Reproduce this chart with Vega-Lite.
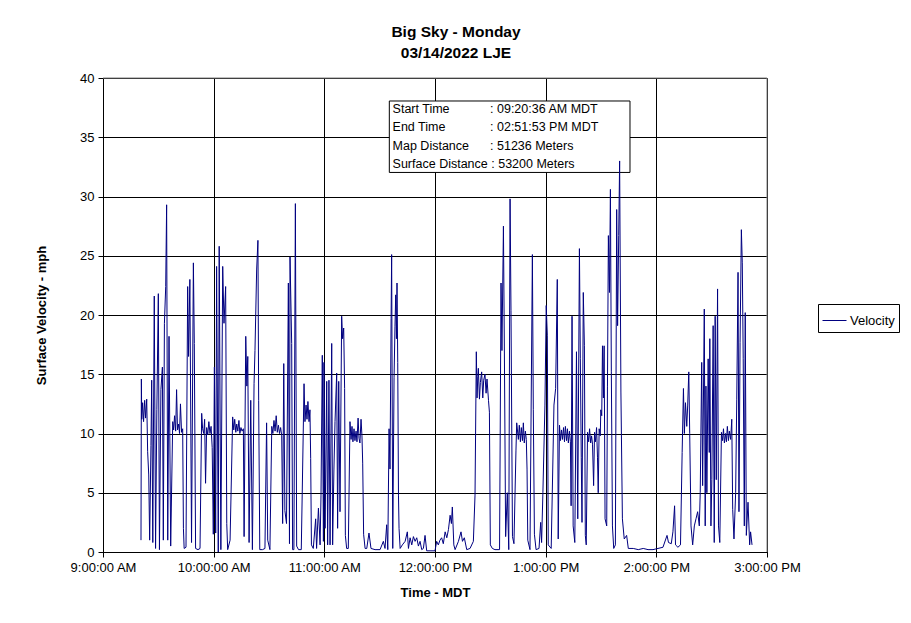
{
  "$schema": "https://vega.github.io/schema/vega-lite/v6.json",
  "width": 664,
  "height": 474,
  "autosize": {"type": "none"},
  "padding": {"left": 103, "top": 78, "right": 144, "bottom": 71},
  "background": "white",
  "title": {
    "text": ["Big Sky - Monday", "03/14/2022 LJE"],
    "font": "Liberation Sans",
    "fontSize": 15.5,
    "fontWeight": "bold",
    "color": "black",
    "anchor": "middle",
    "dx": 21,
    "offset": 11,
    "lineHeight": 21
  },
  "config": {
    "font": "Liberation Sans",
    "view": {"stroke": "#808080", "strokeWidth": 1},
    "axis": {
      "grid": true,
      "gridColor": "black",
      "gridOpacity": 1,
      "gridWidth": 1,
      "labelFont": "Liberation Sans",
      "labelFontSize": 13,
      "labelColor": "black",
      "titleFont": "Liberation Sans",
      "titleFontSize": 13,
      "titleFontWeight": "bold",
      "titleColor": "black",
      "domainColor": "black",
      "tickColor": "black",
      "tickSize": 5,
      "labelPadding": 4,
      "labelFlush": false,
      "labelOverlap": false
    }
  },
  "layer": [
    {
      "data": {"values": [{"edge": "top"}]},
      "mark": {"type": "rule", "color": "#808080", "strokeWidth": 1},
      "encoding": {
        "y": {"datum": 40, "type": "quantitative"}
      }
    },
    {
      "data": {"values": [{"edge": "right"}]},
      "mark": {"type": "rule", "color": "#808080", "strokeWidth": 1},
      "encoding": {
        "x": {"datum": {"year": 1900, "month": 1, "date": 1, "hours": 15, "utc": true}, "type": "temporal"}
      }
    },
    {
      "data": {"values": [{"box": "info"}]},
      "mark": {"type": "rect", "fill": "white", "fillOpacity": 1, "stroke": "black", "strokeOpacity": 1, "strokeWidth": 1},
      "encoding": {
        "x": {"datum": {"year": 1900, "month": 1, "date": 1, "hours": 11, "minutes": 35, "seconds": 14, "utc": true}, "type": "temporal"},
        "x2": {"datum": {"year": 1900, "month": 1, "date": 1, "hours": 13, "minutes": 45, "seconds": 43, "utc": true}},
        "y": {"datum": 38.06, "type": "quantitative"},
        "y2": {"datum": 32.03}
      }
    },
    {
      "data": {"values": [{"box": "info"}]},
      "mark": {"type": "text", "align": "left", "baseline": "middle", "fontSize": 12.5, "lineHeight": 18.3, "color": "black", "font": "Liberation Sans"},
      "encoding": {
        "x": {"datum": {"year": 1900, "month": 1, "date": 1, "hours": 11, "minutes": 37, "seconds": 0, "utc": true}, "type": "temporal"},
        "y": {"datum": 37.38, "type": "quantitative"},
        "text": {"value": ["Start Time", "End Time", "Map Distance", "Surface Distance : 53200 Meters"]}
      }
    },
    {
      "data": {"values": [{"box": "info"}]},
      "mark": {"type": "text", "align": "left", "baseline": "middle", "fontSize": 12.5, "lineHeight": 18.3, "color": "black", "font": "Liberation Sans"},
      "encoding": {
        "x": {"datum": {"year": 1900, "month": 1, "date": 1, "hours": 12, "minutes": 29, "seconds": 50, "utc": true}, "type": "temporal"},
        "y": {"datum": 37.38, "type": "quantitative"},
        "text": {"value": [": 09:20:36 AM MDT", ": 02:51:53 PM MDT", ": 51236 Meters"]}
      }
    },
    {
      "data": {
        "format": {"parse": {"t": "utc:'%H:%M:%S'"}},
        "values": [
          {"t": "09:20:36", "v": 1.0}, {"t": "09:20:48", "v": 14.6}, {"t": "09:21:00", "v": 11.2}, {"t": "09:21:30", "v": 12.6},
          {"t": "09:22:00", "v": 11.0}, {"t": "09:22:36", "v": 12.8}, {"t": "09:23:06", "v": 11.3}, {"t": "09:23:42", "v": 12.9},
          {"t": "09:24:12", "v": 8.5}, {"t": "09:24:48", "v": 6.5}, {"t": "09:25:18", "v": 1.0}, {"t": "09:26:00", "v": 9.0},
          {"t": "09:26:24", "v": 14.5}, {"t": "09:27:00", "v": 0.8}, {"t": "09:27:48", "v": 21.6}, {"t": "09:28:30", "v": 0.3},
          {"t": "09:29:12", "v": 12.0}, {"t": "09:30:00", "v": 21.8}, {"t": "09:30:36", "v": 0.2}, {"t": "09:31:24", "v": 13.7},
          {"t": "09:32:12", "v": 15.6}, {"t": "09:32:42", "v": 1.0}, {"t": "09:33:18", "v": 19.3}, {"t": "09:34:00", "v": 22.4},
          {"t": "09:34:30", "v": 29.3}, {"t": "09:35:06", "v": 1.0}, {"t": "09:35:48", "v": 18.2}, {"t": "09:36:42", "v": 0.5},
          {"t": "09:37:48", "v": 11.0}, {"t": "09:38:18", "v": 10.3}, {"t": "09:38:48", "v": 11.5}, {"t": "09:39:24", "v": 10.2},
          {"t": "09:39:54", "v": 13.7}, {"t": "09:40:24", "v": 10.3}, {"t": "09:41:00", "v": 10.8}, {"t": "09:41:30", "v": 10.0},
          {"t": "09:42:00", "v": 12.5}, {"t": "09:42:36", "v": 10.1}, {"t": "09:43:12", "v": 10.4}, {"t": "09:43:36", "v": 2.0},
          {"t": "09:44:00", "v": 0.3}, {"t": "09:45:00", "v": 0.4}, {"t": "09:45:54", "v": 22.4}, {"t": "09:46:24", "v": 16.5},
          {"t": "09:47:06", "v": 23.0}, {"t": "09:48:00", "v": 0.8}, {"t": "09:49:00", "v": 24.4}, {"t": "09:49:30", "v": 17.6},
          {"t": "09:50:12", "v": 0.3}, {"t": "09:51:30", "v": 0.2}, {"t": "09:52:36", "v": 0.3}, {"t": "09:53:30", "v": 11.7},
          {"t": "09:54:00", "v": 10.4}, {"t": "09:54:36", "v": 10.0}, {"t": "09:55:06", "v": 11.2}, {"t": "09:55:36", "v": 5.8},
          {"t": "09:56:12", "v": 10.5}, {"t": "09:56:48", "v": 9.9}, {"t": "09:57:24", "v": 11.0}, {"t": "09:58:00", "v": 10.0},
          {"t": "09:58:36", "v": 10.6}, {"t": "09:59:12", "v": 8.8}, {"t": "09:59:48", "v": 1.5}, {"t": "10:00:24", "v": 15.6},
          {"t": "10:01:06", "v": 1.6}, {"t": "10:01:36", "v": 24.1}, {"t": "10:02:30", "v": 0.0}, {"t": "10:03:00", "v": 25.8},
          {"t": "10:03:54", "v": 0.2}, {"t": "10:04:54", "v": 24.1}, {"t": "10:05:36", "v": 19.3}, {"t": "10:06:30", "v": 22.4},
          {"t": "10:07:06", "v": 2.4}, {"t": "10:07:36", "v": 0.2}, {"t": "10:08:54", "v": 1.0}, {"t": "10:10:18", "v": 11.4},
          {"t": "10:10:54", "v": 10.3}, {"t": "10:11:24", "v": 11.2}, {"t": "10:12:00", "v": 10.1}, {"t": "10:12:30", "v": 10.8},
          {"t": "10:13:06", "v": 10.2}, {"t": "10:13:42", "v": 11.1}, {"t": "10:14:12", "v": 10.0}, {"t": "10:14:48", "v": 10.5},
          {"t": "10:15:24", "v": 10.2}, {"t": "10:16:06", "v": 10.4}, {"t": "10:16:30", "v": 1.3}, {"t": "10:17:24", "v": 18.2},
          {"t": "10:18:00", "v": 14.0}, {"t": "10:18:30", "v": 16.5}, {"t": "10:19:12", "v": 0.8}, {"t": "10:20:06", "v": 12.8},
          {"t": "10:21:00", "v": 0.2}, {"t": "10:21:54", "v": 14.2}, {"t": "10:22:24", "v": 17.0}, {"t": "10:23:18", "v": 23.8},
          {"t": "10:24:00", "v": 26.3}, {"t": "10:24:24", "v": 12.8}, {"t": "10:25:00", "v": 0.2}, {"t": "10:26:30", "v": 0.2},
          {"t": "10:27:48", "v": 0.3}, {"t": "10:28:42", "v": 10.9}, {"t": "10:29:18", "v": 1.0}, {"t": "10:30:30", "v": 0.2},
          {"t": "10:31:30", "v": 10.6}, {"t": "10:32:06", "v": 10.0}, {"t": "10:32:42", "v": 11.1}, {"t": "10:33:18", "v": 10.2},
          {"t": "10:33:54", "v": 11.5}, {"t": "10:34:30", "v": 10.1}, {"t": "10:35:06", "v": 10.7}, {"t": "10:35:42", "v": 10.0},
          {"t": "10:36:18", "v": 10.5}, {"t": "10:36:54", "v": 9.8}, {"t": "10:37:24", "v": 2.4}, {"t": "10:38:00", "v": 15.9},
          {"t": "10:38:36", "v": 3.5}, {"t": "10:39:30", "v": 2.4}, {"t": "10:40:30", "v": 22.7}, {"t": "10:41:06", "v": 0.7},
          {"t": "10:41:24", "v": 24.9}, {"t": "10:42:18", "v": 17.6}, {"t": "10:42:48", "v": 0.2}, {"t": "10:43:30", "v": 0.2},
          {"t": "10:44:18", "v": 29.4}, {"t": "10:45:00", "v": 0.5}, {"t": "10:46:00", "v": 0.2}, {"t": "10:47:30", "v": 0.2},
          {"t": "10:49:00", "v": 14.2}, {"t": "10:49:30", "v": 11.0}, {"t": "10:50:06", "v": 12.4}, {"t": "10:50:36", "v": 11.2},
          {"t": "10:51:06", "v": 12.7}, {"t": "10:51:42", "v": 11.0}, {"t": "10:52:12", "v": 12.0}, {"t": "10:52:36", "v": 7.9},
          {"t": "10:53:00", "v": 0.6}, {"t": "10:54:00", "v": 0.3}, {"t": "10:55:18", "v": 2.8}, {"t": "10:55:48", "v": 0.3},
          {"t": "10:56:48", "v": 3.7}, {"t": "10:57:42", "v": 0.6}, {"t": "10:58:12", "v": 4.8}, {"t": "10:58:54", "v": 16.6},
          {"t": "10:59:30", "v": 0.9}, {"t": "10:59:48", "v": 16.0}, {"t": "11:00:24", "v": 2.0}, {"t": "11:01:18", "v": 14.4},
          {"t": "11:01:48", "v": 0.6}, {"t": "11:02:30", "v": 14.5}, {"t": "11:03:06", "v": 0.6}, {"t": "11:04:00", "v": 17.6},
          {"t": "11:04:30", "v": 0.6}, {"t": "11:05:12", "v": 7.0}, {"t": "11:05:48", "v": 11.0}, {"t": "11:06:42", "v": 15.1},
          {"t": "11:07:12", "v": 2.0}, {"t": "11:07:48", "v": 14.4}, {"t": "11:08:30", "v": 3.4}, {"t": "11:09:24", "v": 19.9},
          {"t": "11:09:54", "v": 18.0}, {"t": "11:10:30", "v": 18.9}, {"t": "11:11:00", "v": 13.8}, {"t": "11:11:24", "v": 1.4},
          {"t": "11:12:06", "v": 0.3}, {"t": "11:13:00", "v": 0.3}, {"t": "11:13:54", "v": 11.0}, {"t": "11:14:30", "v": 9.5},
          {"t": "11:15:00", "v": 10.6}, {"t": "11:15:30", "v": 9.3}, {"t": "11:16:06", "v": 10.4}, {"t": "11:16:36", "v": 9.4},
          {"t": "11:17:12", "v": 10.2}, {"t": "11:17:42", "v": 9.3}, {"t": "11:18:18", "v": 11.3}, {"t": "11:18:48", "v": 9.6},
          {"t": "11:19:18", "v": 9.2}, {"t": "11:19:54", "v": 11.2}, {"t": "11:20:24", "v": 9.8}, {"t": "11:20:48", "v": 7.5},
          {"t": "11:21:18", "v": 1.5}, {"t": "11:22:06", "v": 0.3}, {"t": "11:23:00", "v": 0.3}, {"t": "11:24:12", "v": 1.6},
          {"t": "11:25:18", "v": 0.3}, {"t": "11:27:30", "v": 0.2}, {"t": "11:30:12", "v": 0.2}, {"t": "11:32:00", "v": 0.9},
          {"t": "11:32:54", "v": 0.3}, {"t": "11:33:48", "v": 2.3}, {"t": "11:34:24", "v": 0.2}, {"t": "11:35:06", "v": 10.4},
          {"t": "11:35:36", "v": 7.0}, {"t": "11:36:12", "v": 19.7}, {"t": "11:36:30", "v": 25.1}, {"t": "11:37:06", "v": 0.3},
          {"t": "11:37:48", "v": 14.7}, {"t": "11:38:18", "v": 19.0}, {"t": "11:38:42", "v": 21.7}, {"t": "11:39:06", "v": 18.0},
          {"t": "11:39:24", "v": 22.7}, {"t": "11:39:48", "v": 16.0}, {"t": "11:40:12", "v": 4.8}, {"t": "11:40:30", "v": 2.0},
          {"t": "11:41:06", "v": 0.3}, {"t": "11:42:18", "v": 0.6}, {"t": "11:43:48", "v": 0.9}, {"t": "11:45:00", "v": 1.7},
          {"t": "11:45:36", "v": 0.3}, {"t": "11:46:30", "v": 1.2}, {"t": "11:47:24", "v": 0.6}, {"t": "11:48:18", "v": 1.3},
          {"t": "11:49:12", "v": 0.9}, {"t": "11:50:06", "v": 1.2}, {"t": "11:51:00", "v": 0.5}, {"t": "11:51:54", "v": 0.9},
          {"t": "11:52:48", "v": 0.2}, {"t": "11:53:42", "v": 0.3}, {"t": "11:54:36", "v": 1.4}, {"t": "11:55:30", "v": 0.1},
          {"t": "11:57:18", "v": 0.1}, {"t": "12:00:00", "v": 0.1}, {"t": "12:00:54", "v": 0.9}, {"t": "12:01:48", "v": 0.6},
          {"t": "12:02:42", "v": 1.0}, {"t": "12:03:36", "v": 1.2}, {"t": "12:04:30", "v": 0.7}, {"t": "12:05:30", "v": 1.7},
          {"t": "12:06:24", "v": 1.2}, {"t": "12:07:18", "v": 1.9}, {"t": "12:08:12", "v": 3.1}, {"t": "12:08:54", "v": 2.4},
          {"t": "12:09:24", "v": 3.8}, {"t": "12:10:12", "v": 0.6}, {"t": "12:10:54", "v": 0.2}, {"t": "12:12:42", "v": 0.9},
          {"t": "12:14:06", "v": 1.7}, {"t": "12:14:54", "v": 0.9}, {"t": "12:15:54", "v": 1.2}, {"t": "12:17:12", "v": 0.2},
          {"t": "12:19:00", "v": 0.3}, {"t": "12:20:48", "v": 0.9}, {"t": "12:21:42", "v": 4.8}, {"t": "12:22:24", "v": 16.9},
          {"t": "12:22:48", "v": 13.0}, {"t": "12:23:12", "v": 14.8}, {"t": "12:23:30", "v": 15.5}, {"t": "12:24:06", "v": 12.9},
          {"t": "12:24:36", "v": 14.3}, {"t": "12:25:18", "v": 15.2}, {"t": "12:25:54", "v": 13.0}, {"t": "12:26:24", "v": 14.5},
          {"t": "12:27:06", "v": 15.0}, {"t": "12:27:42", "v": 13.4}, {"t": "12:28:12", "v": 14.6}, {"t": "12:29:00", "v": 12.8},
          {"t": "12:29:30", "v": 11.8}, {"t": "12:30:00", "v": 0.6}, {"t": "12:31:06", "v": 0.3}, {"t": "12:32:30", "v": 0.2},
          {"t": "12:35:00", "v": 0.2}, {"t": "12:35:48", "v": 22.7}, {"t": "12:36:18", "v": 17.0}, {"t": "12:37:06", "v": 27.5},
          {"t": "12:37:36", "v": 17.3}, {"t": "12:38:18", "v": 1.3}, {"t": "12:39:12", "v": 5.0}, {"t": "12:40:00", "v": 0.2},
          {"t": "12:40:42", "v": 29.8}, {"t": "12:41:12", "v": 20.4}, {"t": "12:42:00", "v": 1.3}, {"t": "12:42:48", "v": 0.7},
          {"t": "12:43:54", "v": 8.6}, {"t": "12:44:18", "v": 10.9}, {"t": "12:45:12", "v": 9.5}, {"t": "12:45:42", "v": 10.7},
          {"t": "12:46:18", "v": 9.3}, {"t": "12:46:48", "v": 10.5}, {"t": "12:47:24", "v": 9.4}, {"t": "12:47:54", "v": 10.9},
          {"t": "12:48:24", "v": 9.2}, {"t": "12:49:00", "v": 10.2}, {"t": "12:49:30", "v": 9.5}, {"t": "12:49:54", "v": 7.0},
          {"t": "12:50:18", "v": 1.0}, {"t": "12:51:30", "v": 0.2}, {"t": "12:52:48", "v": 25.1}, {"t": "12:53:18", "v": 12.0},
          {"t": "12:53:54", "v": 1.5}, {"t": "12:54:48", "v": 0.2}, {"t": "12:56:24", "v": 0.3}, {"t": "12:57:18", "v": 2.5},
          {"t": "12:57:48", "v": 0.8}, {"t": "12:58:30", "v": 5.0}, {"t": "12:59:36", "v": 12.4}, {"t": "13:00:18", "v": 20.8},
          {"t": "13:00:54", "v": 18.3}, {"t": "13:01:24", "v": 0.6}, {"t": "13:03:00", "v": 0.3}, {"t": "13:04:30", "v": 12.4},
          {"t": "13:05:24", "v": 13.8}, {"t": "13:06:18", "v": 23.0}, {"t": "13:06:48", "v": 1.1}, {"t": "13:07:30", "v": 10.7},
          {"t": "13:08:00", "v": 9.4}, {"t": "13:08:36", "v": 10.3}, {"t": "13:09:06", "v": 9.5}, {"t": "13:09:42", "v": 10.5},
          {"t": "13:10:12", "v": 9.3}, {"t": "13:10:42", "v": 10.6}, {"t": "13:11:18", "v": 9.4}, {"t": "13:11:48", "v": 10.4},
          {"t": "13:12:18", "v": 9.2}, {"t": "13:12:54", "v": 10.2}, {"t": "13:13:24", "v": 9.3}, {"t": "13:13:48", "v": 3.9},
          {"t": "13:14:18", "v": 19.9}, {"t": "13:14:54", "v": 2.2}, {"t": "13:15:48", "v": 0.8}, {"t": "13:16:42", "v": 16.9},
          {"t": "13:17:24", "v": 2.8}, {"t": "13:18:18", "v": 25.6}, {"t": "13:18:48", "v": 16.3}, {"t": "13:19:18", "v": 8.0},
          {"t": "13:19:42", "v": 2.5}, {"t": "13:20:24", "v": 21.9}, {"t": "13:21:00", "v": 17.4}, {"t": "13:21:30", "v": 1.4},
          {"t": "13:22:00", "v": 0.6}, {"t": "13:22:42", "v": 10.1}, {"t": "13:23:18", "v": 9.3}, {"t": "13:23:48", "v": 10.4},
          {"t": "13:24:24", "v": 9.2}, {"t": "13:24:54", "v": 9.8}, {"t": "13:25:24", "v": 9.1}, {"t": "13:26:00", "v": 5.6},
          {"t": "13:26:30", "v": 10.1}, {"t": "13:27:00", "v": 9.3}, {"t": "13:27:36", "v": 10.5}, {"t": "13:28:06", "v": 8.0},
          {"t": "13:28:30", "v": 5.0}, {"t": "13:29:00", "v": 10.4}, {"t": "13:29:36", "v": 9.8}, {"t": "13:29:54", "v": 12.0},
          {"t": "13:30:24", "v": 11.5}, {"t": "13:30:48", "v": 17.4}, {"t": "13:31:18", "v": 13.0}, {"t": "13:31:42", "v": 17.4},
          {"t": "13:32:12", "v": 2.8}, {"t": "13:33:06", "v": 2.2}, {"t": "13:33:30", "v": 14.0}, {"t": "13:34:00", "v": 26.7},
          {"t": "13:34:36", "v": 21.9}, {"t": "13:35:06", "v": 30.6}, {"t": "13:35:36", "v": 15.2}, {"t": "13:36:12", "v": 2.2},
          {"t": "13:36:54", "v": 0.3}, {"t": "13:37:48", "v": 0.6}, {"t": "13:38:30", "v": 28.9}, {"t": "13:39:00", "v": 19.1},
          {"t": "13:39:36", "v": 26.7}, {"t": "13:40:06", "v": 33.0}, {"t": "13:40:48", "v": 13.5}, {"t": "13:41:36", "v": 2.8},
          {"t": "13:42:36", "v": 1.1}, {"t": "13:43:54", "v": 1.4}, {"t": "13:44:48", "v": 0.3}, {"t": "13:47:30", "v": 0.3},
          {"t": "13:50:12", "v": 0.2}, {"t": "13:52:54", "v": 0.3}, {"t": "13:55:30", "v": 0.2}, {"t": "13:58:12", "v": 0.2},
          {"t": "14:00:54", "v": 0.3}, {"t": "14:03:36", "v": 0.4}, {"t": "14:05:48", "v": 1.4}, {"t": "14:06:36", "v": 0.8},
          {"t": "14:08:06", "v": 0.7}, {"t": "14:09:00", "v": 1.7}, {"t": "14:09:54", "v": 3.9}, {"t": "14:10:24", "v": 0.6},
          {"t": "14:11:42", "v": 0.4}, {"t": "14:13:06", "v": 0.6}, {"t": "14:14:00", "v": 8.4}, {"t": "14:14:42", "v": 13.8},
          {"t": "14:15:12", "v": 10.0}, {"t": "14:15:48", "v": 12.6}, {"t": "14:16:30", "v": 10.6}, {"t": "14:17:00", "v": 12.4},
          {"t": "14:17:36", "v": 15.2}, {"t": "14:18:06", "v": 10.0}, {"t": "14:18:48", "v": 2.2}, {"t": "14:19:42", "v": 0.6},
          {"t": "14:20:36", "v": 2.2}, {"t": "14:21:30", "v": 2.8}, {"t": "14:22:24", "v": 3.4}, {"t": "14:23:18", "v": 2.2},
          {"t": "14:23:48", "v": 5.0}, {"t": "14:24:36", "v": 16.0}, {"t": "14:25:06", "v": 5.6}, {"t": "14:26:00", "v": 20.5},
          {"t": "14:26:30", "v": 2.2}, {"t": "14:26:54", "v": 14.0}, {"t": "14:27:24", "v": 5.0}, {"t": "14:28:06", "v": 16.3},
          {"t": "14:28:42", "v": 8.4}, {"t": "14:29:00", "v": 18.0}, {"t": "14:29:36", "v": 2.2}, {"t": "14:30:06", "v": 6.1},
          {"t": "14:30:48", "v": 19.1}, {"t": "14:31:24", "v": 0.8}, {"t": "14:31:54", "v": 19.9}, {"t": "14:32:30", "v": 6.1},
          {"t": "14:33:12", "v": 22.2}, {"t": "14:33:42", "v": 2.2}, {"t": "14:34:24", "v": 0.8}, {"t": "14:35:18", "v": 10.1},
          {"t": "14:35:54", "v": 9.4}, {"t": "14:36:24", "v": 10.4}, {"t": "14:36:54", "v": 9.2}, {"t": "14:37:30", "v": 10.0},
          {"t": "14:38:00", "v": 9.3}, {"t": "14:38:30", "v": 10.6}, {"t": "14:39:06", "v": 9.4}, {"t": "14:39:36", "v": 10.2},
          {"t": "14:40:18", "v": 9.5}, {"t": "14:40:54", "v": 11.2}, {"t": "14:41:24", "v": 3.6}, {"t": "14:42:06", "v": 1.1},
          {"t": "14:43:00", "v": 5.0}, {"t": "14:43:36", "v": 12.9}, {"t": "14:44:18", "v": 23.6}, {"t": "14:44:48", "v": 3.4},
          {"t": "14:45:24", "v": 17.7}, {"t": "14:46:06", "v": 27.2}, {"t": "14:46:36", "v": 24.4}, {"t": "14:47:06", "v": 16.3},
          {"t": "14:47:42", "v": 2.2}, {"t": "14:48:12", "v": 20.2}, {"t": "14:48:48", "v": 1.4}, {"t": "14:49:42", "v": 4.2},
          {"t": "14:50:36", "v": 0.6}, {"t": "14:51:06", "v": 1.7}, {"t": "14:51:53", "v": 0.6}
        ]
      },
      "mark": {"type": "line", "strokeWidth": 1, "interpolate": "linear"},
      "encoding": {
        "x": {
          "field": "t",
          "type": "temporal",
          "scale": {
            "type": "utc",
            "domain": [
              {"year": 1900, "month": 1, "date": 1, "hours": 9, "utc": true},
              {"year": 1900, "month": 1, "date": 1, "hours": 15, "utc": true}
            ],
            "nice": false
          },
          "axis": {
            "title": "Time - MDT",
            "titlePadding": 12,
            "format": "%-I:%M:%S %p",
            "values": [
              {"year": 1900, "month": 1, "date": 1, "hours": 9, "utc": true},
              {"year": 1900, "month": 1, "date": 1, "hours": 10, "utc": true},
              {"year": 1900, "month": 1, "date": 1, "hours": 11, "utc": true},
              {"year": 1900, "month": 1, "date": 1, "hours": 12, "utc": true},
              {"year": 1900, "month": 1, "date": 1, "hours": 13, "utc": true},
              {"year": 1900, "month": 1, "date": 1, "hours": 14, "utc": true},
              {"year": 1900, "month": 1, "date": 1, "hours": 15, "utc": true}
            ]
          }
        },
        "y": {
          "field": "v",
          "type": "quantitative",
          "scale": {"domain": [0, 40], "nice": false, "zero": true},
          "axis": {
            "title": "Surface Velocity - mph",
            "titlePadding": 31,
            "values": [0, 5, 10, 15, 20, 25, 30, 35, 40]
          }
        },
        "color": {
          "datum": "Velocity",
          "type": "nominal",
          "scale": {"range": ["#000080"]},
          "legend": {
            "title": null,
            "orient": "none",
            "legendX": 715,
            "legendY": 226,
            "strokeColor": "black",
            "fillColor": "white",
            "padding": 4,
            "symbolType": "stroke",
            "symbolSize": 576,
            "symbolStrokeWidth": 1,
            "labelFont": "Liberation Sans",
            "labelFontSize": 13,
            "labelColor": "black",
            "labelOffset": 3
          }
        }
      }
    }
  ]
}
